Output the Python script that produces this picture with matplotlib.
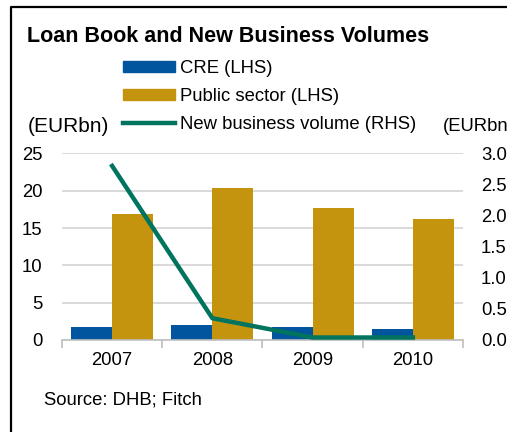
import numpy as np
import matplotlib.pyplot as plt
from matplotlib.lines import Line2D
from matplotlib.patches import Patch

plt.rcParams['font.family'] = ['Liberation Sans', 'DejaVu Sans']

# Loan book (EURbn, left axis) and new business (EURbn, right axis)
years = ['2007', '2008', '2009', '2010']
cre = [1.8, 2.0, 1.8, 1.5]
public_sector = [16.9, 20.4, 17.7, 16.2]
new_business = [2.8, 0.35, 0.04, 0.04]

blue = '#01549E'
gold = '#C4940F'
green = '#00745E'
grid_grey = '#D9D9D9'
fs = 13.3

fig = plt.figure(figsize=(5.07, 4.32), dpi=100)
ax = fig.add_axes([0.1223, 0.213, 0.7909, 0.4317])

x = np.arange(len(years))
w = 0.41
ax.bar(x - w / 2, cre, width=w, color=blue, zorder=2)
ax.bar(x + w / 2, public_sector, width=w, color=gold, zorder=2)

ax.set_xlim(-0.5, len(years) - 0.5)
ax.set_ylim(0, 25)
ax.set_yticks([0, 5, 10, 15, 20, 25])
ax.yaxis.grid(True, color=grid_grey, linewidth=1.4, zorder=0)
ax.set_axisbelow(True)
for s in ['left', 'right', 'top']:
    ax.spines[s].set_visible(False)
ax.spines['bottom'].set_color('#BFBFBF')
ax.spines['bottom'].set_linewidth(1.2)

# tick marks between categories, labels centred under them
ax.set_xticks(np.arange(-0.5, len(years)), minor=False)
ax.set_xticklabels([])
ax.set_xticks(x, minor=True)
ax.set_xticklabels(years, minor=True, fontsize=fs)
ax.tick_params(axis='x', which='major', length=6, color='#BFBFBF', width=1.2)
ax.tick_params(axis='x', which='minor', length=0, pad=9)
ax.tick_params(axis='y', length=0, labelsize=fs, pad=14)

ax2 = ax.twinx()
ax2.plot(x, new_business, color=green, linewidth=3.2, zorder=3)
ax2.set_ylim(0, 3.0)
ax2.set_yticks(np.arange(0, 3.01, 0.5))
ax2.set_yticklabels(['%.1f' % v for v in np.arange(0, 3.01, 0.5)])
ax2.tick_params(axis='y', length=0, labelsize=fs, pad=13)
for s in ax2.spines.values():
    s.set_visible(False)

fig.text(27 / 507, 1 - 37 / 432, 'Loan Book and New Business Volumes',
         fontsize=15.5, fontweight='bold', va='center', ha='left')

handles = [Patch(color=blue), Patch(color=gold),
           Line2D([], [], color=green, linewidth=3.2)]
labels = ['CRE (LHS)', 'Public sector (LHS)', 'New business volume (RHS)']
fig.legend(handles, labels, loc='upper left',
           bbox_to_anchor=(123 / 507, 1 - 60 / 432), frameon=False,
           fontsize=fs, handlelength=2.8, handleheight=0.6,
           handletextpad=0.3, labelspacing=0.6, borderpad=0, borderaxespad=0)

fig.text(28 / 507, 1 - 127 / 432, '(EURbn)', fontsize=15, va='center')
fig.text(443 / 507, 1 - 127 / 432, '(EURbn)', fontsize=fs, va='center')
fig.text(44 / 507, 1 - 400 / 432, 'Source: DHB; Fitch', fontsize=fs, va='center')

# border on the left and top edge
fig.add_artist(Line2D([11 / 507, 11 / 507, 1.0], [0, 1 - 6.5 / 432, 1 - 6.5 / 432],
                      transform=fig.transFigure, color='black', linewidth=1.6))

fig.savefig('out.png', dpi=100)
